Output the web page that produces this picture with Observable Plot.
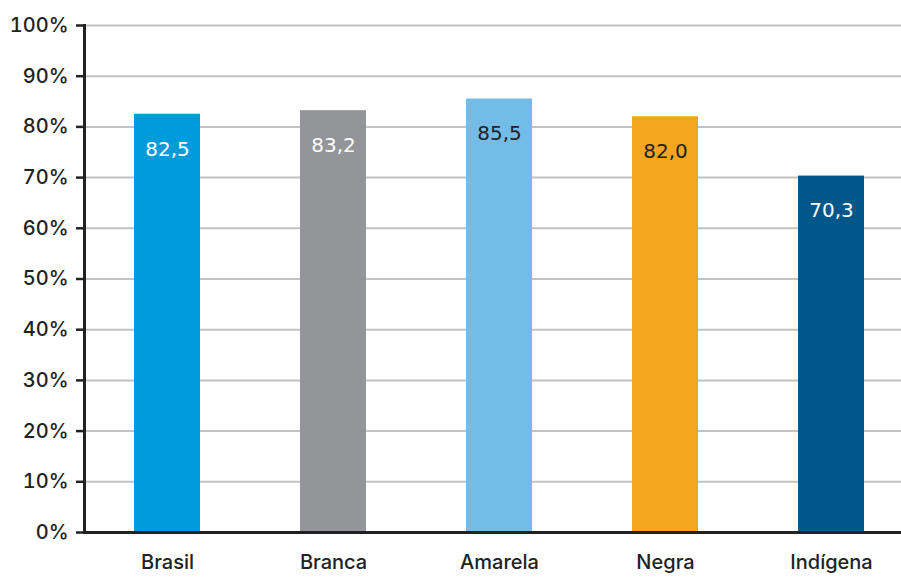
<!DOCTYPE html>
<html>
<head>
<meta charset="utf-8">
<script src="https://cdn.jsdelivr.net/npm/d3@7"></script>
<script src="https://cdn.jsdelivr.net/npm/@observablehq/plot@0.6"></script>
<style>
  html, body { margin: 0; padding: 0; background: #fff; }
  #chart { width: 901px; height: 577px; overflow: hidden; }
</style>
</head>
<body>
<div id="chart"></div>
<script>
const categories = ["Brasil", "Branca", "Amarela", "Negra", "Indígena"];
const values = [82.5, 83.2, 85.5, 82.0, 70.3];
const barColors = ["#009bdb", "#939598", "#73bce8", "#f6a51e", "#01578a"];
const labelColors = ["#ffffff", "#ffffff", "#222222", "#222222", "#ffffff"];
const yTicks = [0, 10, 20, 30, 40, 50, 60, 70, 80, 90, 100];

const data = categories.map((c, i) => ({
  cat: c, value: values[i], color: barColors[i], labelColor: labelColors[i],
  label: values[i].toFixed(1).replace(".", ",")
}));

const chart = Plot.plot({
  width: 901,
  height: 577,
  marginLeft: 84,
  marginRight: 0,
  marginTop: 25,
  marginBottom: 45,
  style: { background: "#fff", overflow: "hidden" },
  x: { domain: categories, range: [84, 914], paddingInner: 0.6, paddingOuter: 0.3, label: null },
  y: { domain: [0, 100], label: null },
  color: { type: "identity" },
  marks: [
    Plot.ruleY(yTicks.filter(d => d > 0), { stroke: "#c2c2c4", strokeWidth: 2 }),
    Plot.barY(data, { x: "cat", y: "value", fill: "color" }),
    Plot.text(data, {
      x: "cat", y: "value", text: "label", fill: "labelColor", dy: 35,
      fontSize: 20, fontFamily: "DejaVu Sans"
    }),
    Plot.axisY({
      ticks: yTicks, tickFormat: d => d + "%", tickSize: 8, tickPadding: 8,
      fontSize: 20, fontFamily: "Inter", fontWeight: 500, fill: "#222",
      stroke: "#222", strokeWidth: 2.5
    }),
    Plot.axisX({
      tickSize: 0, tickPadding: 22, fontSize: 20, fontFamily: "Inter",
      fontWeight: 500, fill: "#222"
    }),
    Plot.frame({ anchor: "left", stroke: "#222", strokeWidth: 3 }),
    Plot.ruleY([0], { stroke: "#222", strokeWidth: 3 })
  ]
});
document.getElementById("chart").appendChild(chart);
</script>
</body>
</html>
